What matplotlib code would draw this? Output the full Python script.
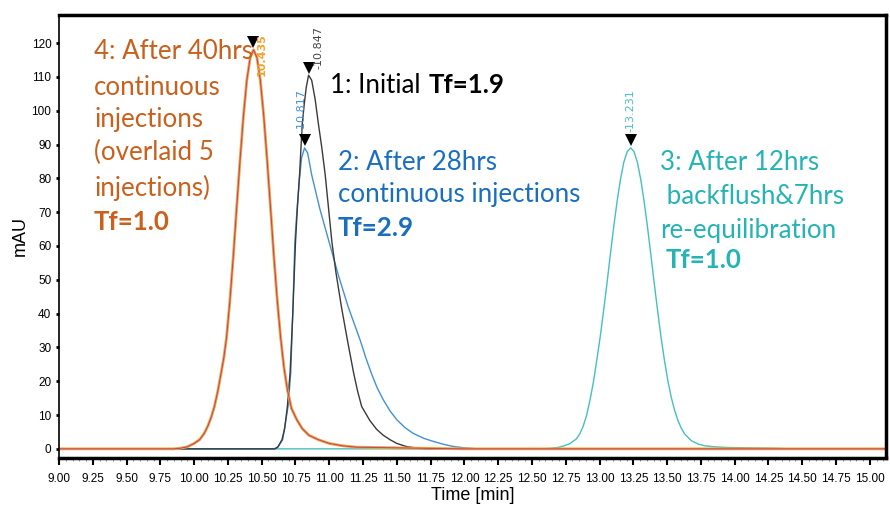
import matplotlib
matplotlib.use("Agg")
import matplotlib.pyplot as plt
from matplotlib.ticker import MultipleLocator
import numpy as np

# chromatogram traces (time in min, signal in mAU)
t_after40 = [9.00, 9.85, 9.90, 9.95, 10.00, 10.04, 10.075, 10.10, 10.125, 10.15,
             10.175, 10.20, 10.22, 10.24, 10.265, 10.29, 10.315, 10.34, 10.365, 10.39,
             10.415, 10.44, 10.465, 10.49, 10.515, 10.54, 10.565, 10.59, 10.615, 10.64,
             10.665, 10.69, 10.72, 10.76, 10.80, 10.85, 10.92, 11.00, 11.10, 11.20,
             11.50, 11.80, 12.00, 15.12]
y_after40 = [0, 0, 0.2, 0.6, 1.6, 2.7, 4.6, 6.6, 9.2, 12.5,
             17, 22.5, 27, 33, 44, 57, 71.5, 85.5, 98.5, 109,
             115.7, 118, 115.7, 109, 98.5, 85.5, 71.5, 57, 44, 33,
             24, 17.5, 12, 8.6, 6.0, 4.0, 2.7, 1.6, 0.9, 0.5,
             0.3, 0.1, 0, 0]

t_initial = [9.00, 10.60, 10.62, 10.65, 10.67, 10.69, 10.71, 10.73, 10.75, 10.765,
             10.78, 10.80, 10.815, 10.83, 10.847, 10.87, 10.895, 10.92, 10.945, 10.97,
             10.995, 11.02, 11.05, 11.09, 11.135, 11.18, 11.21, 11.24, 11.30, 11.35,
             11.40, 11.45, 11.50, 11.57, 11.65, 11.72, 15.12]
y_initial = [0, 0, 0.6, 2.7, 6, 12.5, 22.5, 40, 61, 72,
             81, 96, 102, 107, 110.5, 109, 103.5, 96, 89, 81,
             71, 61, 52, 42, 32, 22.5, 17, 12.5, 8.4, 5.8,
             4.0, 2.7, 1.6, 0.7, 0.2, 0, 0]

t_after28 = [9.00, 10.59, 10.62, 10.655, 10.695, 10.715, 10.73, 10.745, 10.76, 10.78,
             10.795, 10.817, 10.84, 10.87, 10.90, 10.93, 10.965, 11.00, 11.035, 11.07,
             11.105, 11.14, 11.185, 11.23, 11.27, 11.31, 11.355, 11.40, 11.45, 11.50,
             11.56, 11.62, 11.70, 11.77, 11.85, 11.92, 12.00, 12.10, 15.12]
y_after28 = [0, 0, 0.5, 2.7, 12.5, 22.5, 40, 61, 70, 80,
             86, 89, 87.5, 81, 76, 71, 66, 61, 56, 51,
             46.5, 42, 37, 32, 27, 22.5, 18, 14.5, 11.2, 8.6,
             6.3, 4.6, 3.1, 2.2, 1.3, 0.7, 0.3, 0, 0]

t_backflush = [9.00, 12.55, 12.63, 12.69, 12.73, 12.78, 12.83, 12.855, 12.88, 12.905,
               12.93, 12.955, 12.98, 13.005, 13.03, 13.055, 13.08, 13.105, 13.13, 13.155,
               13.18, 13.205, 13.231, 13.255, 13.28, 13.305, 13.33, 13.355, 13.38, 13.405,
               13.43, 13.455, 13.48, 13.505, 13.53, 13.555, 13.58, 13.605, 13.63, 13.68,
               13.73, 13.78, 13.85, 13.95, 14.10, 14.30, 14.40, 15.12]
y_backflush = [0, 0, 0.1, 0.4, 0.8, 1.5, 3.0, 4.5, 6.8, 10,
               14.5, 19.8, 26.3, 33.1, 40.8, 48.9, 57.4, 65.6, 73.2, 79.7,
               84.8, 87.9, 89, 87.9, 84.8, 79.7, 73.2, 65.6, 57.4, 48.9,
               40.8, 33.1, 26.3, 20.3, 15.4, 11.5, 8.4, 6.1, 4.4, 2.4,
               1.4, 0.9, 0.6, 0.4, 0.3, 0.15, 0, 0]

peak_rt = ["10.435", "10.847", "10.817", "13.231"]
peak_t = [10.435, 10.847, 10.817, 13.231]
peak_h = [118, 110.5, 89, 89]

x_ticks = np.arange(9.0, 15.01, 0.25)
y_ticks = np.arange(0, 121, 10)

c_orange = "#F2A22E"
c_magenta = "#B2368C"
c_black = "#3A3A3A"
c_blue = "#4291D6"
c_cyan = "#45BFC2"
txt_orange = "#C9601C"
txt_blue = "#1A6EC0"
txt_cyan = "#26B3B6"

fig = plt.figure(figsize=(8.9, 5.12), dpi=100)
ax = fig.add_axes([0.0663, 0.1055, 0.9292, 0.8652])

ax.plot(t_backflush, y_backflush, color=c_cyan, lw=1.0)
ax.plot(t_after28, y_after28, color=c_blue, lw=1.0)
ax.plot(t_initial, y_initial, color=c_black, lw=1.0)
ax.plot(t_after40, y_after40, color=c_orange, lw=2.0)
ax.plot(t_after40, y_after40, color=c_magenta, lw=0.6)

# peak markers and retention time labels
lbl_colors = [c_orange, "#444444", c_blue, c_cyan]
lbl_offsets = [(6, 0), (7, -3), (-2, 4), (0, 4)]
for i in range(4):
    ax.plot(peak_t[i], peak_h[i] + 2.2, marker="v", color="black", ms=8, mew=0)
    if i == 0:
        ax.annotate(peak_rt[i], (peak_t[i], 123), xytext=lbl_offsets[i],
                    textcoords="offset points", rotation=90, ha="center", va="top",
                    fontsize=8, color=lbl_colors[i], fontweight="bold")
    else:
        ax.annotate("-" + peak_rt[i], (peak_t[i], peak_h[i] + 3), xytext=lbl_offsets[i],
                    textcoords="offset points", rotation=90, ha="center", va="bottom",
                    fontsize=8, color=lbl_colors[i])

# annotations
fam = ["Lato", "DejaVu Sans"]
fs = 18.6

lines4 = ["4: After 40hrs", "continuous", "injections", "(overlaid 5", "injections)"]
ys4 = [117.4, 107.0, 97.3, 87.6, 77.2]
for s, yv in zip(lines4, ys4):
    ax.text(9.259, yv, s, color=txt_orange, fontsize=fs, family=fam, va="center")
ax.text(9.259, 67.1, "Tf=1.0", color=txt_orange, fontsize=fs, family=fam,
        fontweight="bold", va="center")

t1 = ax.text(11.004, 105.3, "1: Initial", color="black", fontsize=fs, family=fam,
             va="baseline")
ax.annotate("Tf=1.9", xy=(1, 105.3), xycoords=(t1, "data"), xytext=(6, 0),
            textcoords="offset points", color="black", fontsize=fs, family=fam,
            fontweight="bold", va="baseline", ha="left")

ax.text(11.064, 84.8, "2: After 28hrs", color=txt_blue, fontsize=fs, family=fam, va="center")
ax.text(11.064, 75.1, "continuous injections", color=txt_blue, fontsize=fs, family=fam,
        va="center")
ax.text(11.064, 65.3, "Tf=2.9", color=txt_blue, fontsize=fs, family=fam,
        fontweight="bold", va="center")

lines3 = ["3: After 12hrs", " backflush&7hrs", "re-equilibration"]
ys3 = [84.8, 74.5, 64.7]
for s, yv in zip(lines3, ys3):
    ax.text(13.445, yv, s, color=txt_cyan, fontsize=fs, family=fam, va="center")
ax.text(13.49, 55.9, "Tf=1.0", color=txt_cyan, fontsize=fs, family=fam,
        fontweight="bold", va="center")

ax.set_xlim(9.0, 15.12)
ax.set_ylim(-2.7, 128.3)
ax.set_xticks(x_ticks)
ax.set_xticklabels(["%.2f" % v for v in x_ticks])
ax.set_yticks(y_ticks)
ax.xaxis.set_minor_locator(MultipleLocator(0.05))

for lab in ax.get_xticklabels() + ax.get_yticklabels():
    lab.set_family("Liberation Sans")
ax.tick_params(axis="x", which="major", direction="out", length=5, width=1.5, pad=6,
               labelsize=8.5)
ax.tick_params(axis="x", which="minor", direction="out", length=2, width=0.8,
               color="#999999")
ax.tick_params(axis="y", direction="out", length=2.5, width=2, pad=3, labelsize=8.5)

for side in ["top", "right", "bottom"]:
    ax.spines[side].set_linewidth(2.5)
ax.spines["left"].set_linewidth(1.2)

ax.set_xlabel("Time [min]", family="Liberation Sans", fontsize=13, labelpad=1)
ax.set_ylabel("mAU", family="Liberation Sans", fontsize=13, labelpad=2)

fig.savefig("out.png", dpi=100)
